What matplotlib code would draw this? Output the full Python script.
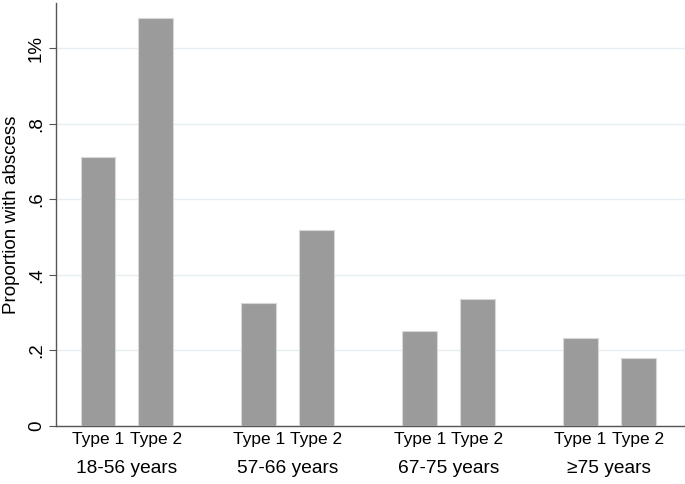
import numpy as np
import matplotlib
matplotlib.use("Agg")
import matplotlib.pyplot as plt

plt.rcParams['font.family'] = ['Liberation Sans', 'DejaVu Sans']

groups = ['18-56 years', '57-66 years', '67-75 years', '≥75 years']
types = ['Type 1', 'Type 2']
type1 = [0.711, 0.326, 0.252, 0.233]
type2 = [1.080, 0.520, 0.337, 0.180]
yticks = [0, 0.2, 0.4, 0.6, 0.8, 1.0]
ytick_labels = ['0', '.2', '.4', '.6', '.8', '1%']

fig = plt.figure(figsize=(6.85, 4.84), dpi=100)
ax = fig.add_axes([0.0818, 0.1198, 0.9182, 0.874])

x = np.arange(len(groups))
off = 0.179
w = 0.217
bar_kw = dict(width=w, color='#9b9b9b', edgecolor='#d8d8d8', linewidth=0.8, zorder=3)
ax.bar(x - off, type1, **bar_kw)
ax.bar(x + off, type2, **bar_kw)

ax.set_xlim(-0.44, 3.47)
ax.set_ylim(0, 1.12)
ax.set_yticks(yticks)
ax.set_yticklabels(ytick_labels, rotation=90, va='center', fontsize=13.5)
ax.yaxis.grid(True, color='#e6eef1', linewidth=1.0, zorder=0)
ax.tick_params(axis='y', length=5, width=0.8, color='#555555', pad=3)
ax.set_ylabel('Proportion with abscess', fontsize=13.5, labelpad=6)

ax.set_xticks([])
for i in range(len(groups)):
    ax.text(x[i] - off, -0.036, types[0], ha='center', va='center', fontsize=12.5,
            transform=ax.transData, clip_on=False)
    ax.text(x[i] + off, -0.036, types[1], ha='center', va='center', fontsize=12.5,
            transform=ax.transData, clip_on=False)
    ax.text(x[i], -0.112, groups[i], ha='center', va='center', fontsize=13.8,
            transform=ax.transData, clip_on=False)

for s in ['top', 'right']:
    ax.spines[s].set_visible(False)
ax.spines['left'].set_color('#555555')
ax.spines['bottom'].set_color('#555555')
ax.spines['left'].set_linewidth(1.0)
ax.spines['bottom'].set_linewidth(1.0)

fig.savefig('out.png', dpi=100)
